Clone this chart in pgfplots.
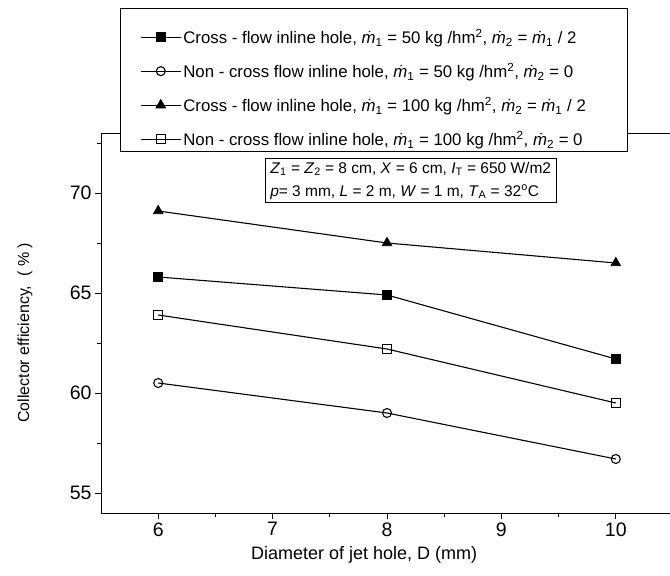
\documentclass[border=0pt]{standalone}
\usepackage{fontspec}
\setmainfont{Liberation Sans}
\usepackage{pgfplots}
\pgfplotsset{compat=1.18}
\newcommand{\md}[1]{\textit{\.m}\textsubscript{#1}}
\begin{document}
\begin{tikzpicture}[x=1pt,y=1pt]
\path[use as bounding box, clip] (-101,-63) rectangle (569,513);
\begin{axis}[
 at={(0,0)}, anchor=south west,
 scale only axis, width=572pt, height=380pt,
 xmin=5.5, xmax=10.5, ymin=54, ymax=73,
 xtick={6,7,8,9,10}, ytick={55,60,65,70},
 minor xtick={6.5,7.5,8.5,9.5}, minor ytick={57.5,62.5,67.5,72.5},
 tick align=outside, xtick pos=bottom, ytick pos=left,
 major tick length=6pt, minor tick length=3.5pt,
 tick style={black, line width=0.8pt},
 axis line style={line width=0.8pt},
 ticklabel style={font=\fontsize{19.5}{21}\selectfont},
 /pgf/number format/assume math mode=true,
 xlabel={Diameter of jet hole, D (mm)},
 ylabel={Collector efficiency,\ \ ( \% )},
 xlabel style={font=\fontsize{18}{20}\selectfont, at={(ticklabel cs:0.46)}, yshift=-3pt},
 ylabel style={font=\fontsize{16}{18}\selectfont, at={(axis description cs:-0.133,0.474)}, anchor=center},
 clip=false,
 legend cell align=left,
 legend style={at={(axis cs:5.841,78.3)}, anchor=north west, draw=none, fill=none,
   font=\fontsize{16.8}{18}\selectfont, row sep=14pt, inner sep=0pt},
 legend image code/.code={\draw[mark repeat=2,mark phase=2] plot coordinates {(0pt,0pt) (20pt,0pt) (40pt,0pt)};},
 every axis plot/.append style={black, line width=1.1pt, mark options={solid, line width=0.8pt}},
]
\draw[fill=white, line width=0.8pt] (axis cs:5.666,79.25) rectangle (axis cs:10.103,72.1);
\addplot[mark=square*, mark size=4.5pt] coordinates {(6,65.8) (8,64.9) (10,61.7)};
\addlegendentry{Cross - flow inline hole, \md{1} = 50 kg /hm\textsuperscript{2}, \md{2} = \md{1} / 2}
\addplot[mark=o, mark size=4.5pt, mark options={fill=white}] coordinates {(6,60.5) (8,59.0) (10,56.7)};
\addlegendentry{Non - cross flow inline hole, \md{1} = 50 kg /hm\textsuperscript{2}, \md{2} = 0}
\addplot[mark=triangle*, mark size=5.5pt] coordinates {(6,69.1) (8,67.5) (10,66.5)};
\addlegendentry{Cross - flow inline hole, \md{1} = 100 kg /hm\textsuperscript{2}, \md{2} = \md{1} / 2}
\addplot[mark=square, mark size=4.5pt, mark options={fill=white}] coordinates {(6,63.9) (8,62.2) (10,59.5)};
\addlegendentry{Non - cross flow inline hole, \md{1} = 100 kg /hm\textsuperscript{2}, \md{2} = 0}
\node[draw, fill=white, line width=0.8pt, align=left, font=\fontsize{15.5}{23}\selectfont, inner xsep=5pt, inner ysep=3pt]
  at (axis cs:8.207,70.625)
  {\textit{Z}\textsubscript{1} = \textit{Z}\textsubscript{2} = 8 cm, \textit{X} = 6 cm, \textit{I}\textsubscript{T} = 650 W/m2\\
   \textit{p}= 3 mm, \textit{L} = 2 m, \textit{W} = 1 m, \textit{T}\textsubscript{A} = 32\textsuperscript{o}C};
\end{axis}
\end{tikzpicture}
\end{document}
